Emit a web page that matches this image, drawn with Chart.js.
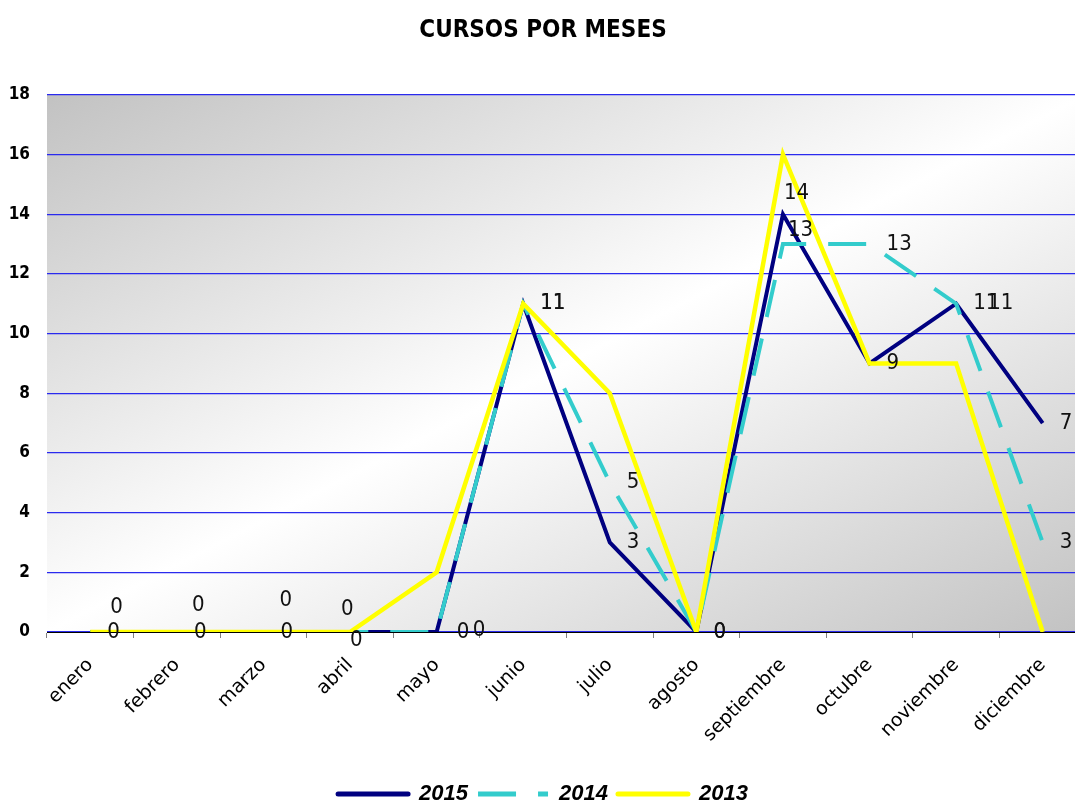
<!DOCTYPE html>
<html>
<head>
<meta charset="utf-8">
<script src="https://cdn.jsdelivr.net/npm/chart.js@4"></script>
<style>
  html, body { margin: 0; padding: 0; background: #fff; overflow: hidden; }
  #wrap { width: 1075px; height: 801px; overflow: hidden; position: relative; }
  #wrap canvas { position: absolute; left: 0; top: 0; }
</style>
</head>
<body>
<div id="wrap"><canvas id="myChart" width="1096" height="815"></canvas></div>
<script>
const months = ["enero", "febrero", "marzo", "abril", "mayo", "junio",
  "julio", "agosto", "septiembre", "octubre", "noviembre", "diciembre"];
const cursos2015 = [0, 0, 0, 0, 0, 11, 3, 0, 14, 9, 11, 7];
const cursos2014 = [0, 0, 0, 0, 0, 11, 5, 0, 13, 13, 11, 3];
const cursos2013 = [0, 0, 0, 0, 2, 11, 8, 0, 16, 9, 9, 0];
const yTicks = [0, 2, 4, 6, 8, 10, 12, 14, 16, 18];

const narrow = "'Liberation Sans Narrow', 'DejaVu Sans Condensed', sans-serif";

// degradado diagonal del fondo del area de trazado
const plotBackground = {
  id: "plotBackground",
  beforeDraw(chart) {
    const { ctx, chartArea: a } = chart;
    ctx.save();
    ctx.translate(a.left, a.top);
    ctx.scale(a.right - a.left, a.bottom - a.top);
    const g = ctx.createLinearGradient(0, 0, 1, 1);
    g.addColorStop(0, "#c2c2c2");
    g.addColorStop(0.5, "#ffffff");
    g.addColorStop(1, "#c2c2c2");
    ctx.fillStyle = g;
    ctx.fillRect(0, 0, 1, 1);
    ctx.restore();
  }
};

// etiquetas de valores (solo 2015 y 2014), desplazamientos aproximados
const labelShift = {
  "0:3": [0, 8], "0:4": [20, 0], "0:8": [1, -21],
  "1:0": [20, -25], "1:1": [15, -27], "1:2": [16, -32], "1:3": [-9, -23],
  "1:4": [36, -2], "1:8": [5, -14], "1:10": [32, 0]
};
const valueLabels = {
  id: "valueLabels",
  afterDatasetsDraw(chart) {
    const ctx = chart.ctx;
    ctx.save();
    ctx.font = "22px " + narrow;
    ctx.fillStyle = "#111";
    ctx.textAlign = "left";
    ctx.textBaseline = "middle";
    [1, 0].forEach((di) => {
      const meta = chart.getDatasetMeta(di);
      const vals = chart.data.datasets[di].data;
      meta.data.forEach((pt, i) => {
        const s = labelShift[di + ":" + i] || [17, 0];
        ctx.fillText(String(vals[i]), pt.x + s[0], pt.y + s[1]);
      });
    });
    ctx.restore();
  }
};

new Chart(document.getElementById("myChart"), {
  type: "line",
  data: {
    labels: months,
    datasets: [
      // order: 2013 (amarillo) encima, 2015 debajo
      { label: "2015", data: cursos2015, borderColor: "#000080", backgroundColor: "#000080",
        borderWidth: 4, order: 3 },
      { label: "2014", data: cursos2014, borderColor: "#33cccc", backgroundColor: "#33cccc",
        borderWidth: 4, borderDash: [38, 22], order: 2 },
      { label: "2013", data: cursos2013, borderColor: "#ffff00", backgroundColor: "#ffff00",
        borderWidth: 4.5, order: 1 }
    ]
  },
  options: {
    responsive: false,
    animation: false,
    tension: 0,
    pointRadius: 0,
    pointHoverRadius: 0,
    layout: { padding: { left: 0, right: 10, top: 0, bottom: 0 } },
    plugins: {
      tooltip: { enabled: false },
      title: {
        display: true,
        text: "CURSOS POR MESES",
        color: "#000",
        font: { family: narrow, size: 24, weight: "bold", lineHeight: 1.2 },
        padding: { top: 16, bottom: 50 }
      },
      legend: {
        display: true,
        position: "bottom",
        labels: {
          sort: (a, b) => a.datasetIndex - b.datasetIndex,
          generateLabels(chart) {
            const items = Chart.defaults.plugins.legend.labels.generateLabels(chart);
            items.forEach((it) => {
              const ds = chart.data.datasets[it.datasetIndex];
              it.lineDash = ds.borderDash || [];
              it.lineWidth = 5;
              it.lineCap = ds.borderDash ? "butt" : "round";
              it.strokeStyle = ds.borderColor;
            });
            return items;
          },
          usePointStyle: true,
          pointStyle: "line",
          pointStyleWidth: 70,
          color: "#000",
          padding: 10,
          font: { family: "'Liberation Sans', Arial, sans-serif", size: 22, weight: "bold", style: "italic" }
        }
      }
    },
    scales: {
      x: {
        offset: true,
        grid: { display: true, offset: true, drawOnChartArea: false, drawTicks: true,
          tickLength: 6, color: "#808080" },
        border: { display: true, color: "#000", width: 1 },
        ticks: {
          color: "#000",
          maxRotation: 45, minRotation: 45,
          padding: 16,
          font: { family: "'DejaVu Sans', sans-serif", size: 19 }
        },
        afterFit(scale) { scale.height = 141; }
      },
      y: {
        min: 0, max: 18,
        afterBuildTicks(scale) { scale.ticks = yTicks.map((v) => ({ value: v })); },
        grid: { color: "#2a2aee", lineWidth: 1.2, drawTicks: false },
        border: { display: false },
        ticks: {
          color: "#000",
          padding: 17,
          font: { family: narrow, size: 17, weight: "bold" }
        },
        afterFit(scale) { scale.width = 47; }
      }
    }
  },
  plugins: [plotBackground, valueLabels]
});
</script>
</body>
</html>
